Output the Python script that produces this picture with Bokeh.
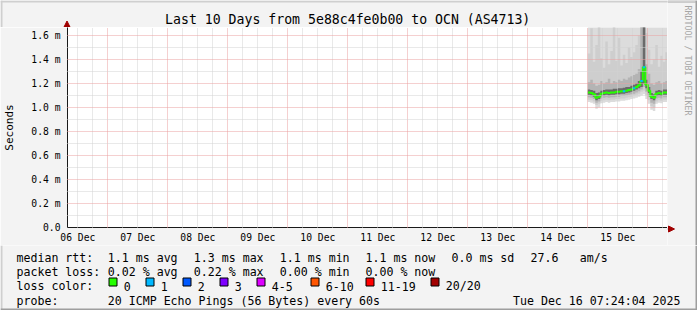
import math
import pandas as pd
from bokeh.plotting import figure
from bokeh.layouts import column, row
from bokeh.models import FixedTicker, CustomJSTickFormatter, ColumnDataSource, Range1d
from bokeh.core.properties import value
from bokeh.embed import file_html
from bokeh.resources import INLINE

# ---------------- data ----------------
title_text = "Last 10 Days from 5e88c4fe0b00 to OCN (AS4713)"
graph_start = "2025-12-06 07:52:48"
graph_end = "2025-12-16 07:52:48"
first_sample = "2025-12-15 00:00:00"   # hourly samples

median_ms = [1.125, 1.12, 1.11, 1.08, 1.09, 1.115, 1.12, 1.125, 1.12, 1.125, 1.125, 1.13,
             1.13, 1.135, 1.135, 1.14, 1.145, 1.15, 1.16, 1.17, 1.185, 1.22, 1.335, 1.19,
             1.14, 1.09, 1.08, 1.115, 1.12, 1.115, 1.125, 1.125]
loss_count = [0, 0, 0, 0, 0, 0, 0, 0, 0, 0, 0, 0, 0, 0, 1, 0, 0, 0, 1, 0, 0, 1, 1, 0,
              0, 0, 0, 0, 0, 0, 0, 0]

outer_lo = [1.045, 1.04, 1.03, 0.99, 1.00, 1.035, 1.04, 1.045, 1.04, 1.045, 1.045, 1.05,
            1.05, 1.055, 1.055, 1.06, 1.065, 1.07, 1.075, 1.08, 1.09, 1.10, 1.11, 1.07,
            1.03, 0.98, 0.97, 1.03, 1.04, 1.035, 1.045, 1.045]
outer_hi = [1.9, 1.9, 1.9, 1.9, 1.9, 1.9, 1.9, 1.9, 1.9, 1.9, 1.9, 1.9, 1.9, 1.9, 1.9, 1.9,
            1.9, 1.9, 1.9, 1.9, 1.9, 1.9, 1.9, 1.9, 1.9, 1.9, 1.9, 1.9, 1.9, 1.9, 1.9, 1.9]
second_lo = [1.065, 1.06, 1.05, 1.02, 1.03, 1.055, 1.06, 1.065, 1.06, 1.065, 1.065, 1.07,
             1.07, 1.075, 1.075, 1.08, 1.085, 1.09, 1.10, 1.105, 1.115, 1.13, 1.14, 1.10,
             1.06, 1.01, 1.00, 1.05, 1.06, 1.055, 1.065, 1.065]
second_hi = [1.45, 1.66, 1.38, 1.52, 1.9, 1.41, 1.33, 1.55, 1.36, 1.47, 1.9, 1.39, 1.58,
             1.35, 1.44, 1.37, 1.50, 1.42, 1.46, 1.52, 1.60, 1.9, 1.9, 1.62, 1.48, 1.36,
             1.40, 1.52, 1.34, 1.43, 1.38, 1.46]
third_lo = [1.085, 1.08, 1.07, 1.04, 1.05, 1.075, 1.08, 1.085, 1.08, 1.085, 1.085, 1.09,
            1.09, 1.095, 1.095, 1.10, 1.105, 1.11, 1.115, 1.125, 1.135, 1.15, 1.17, 1.13,
            1.09, 1.04, 1.03, 1.075, 1.08, 1.075, 1.085, 1.085]
third_hi = [1.21, 1.23, 1.20, 1.18, 1.19, 1.22, 1.20, 1.21, 1.24, 1.20, 1.22, 1.21, 1.23,
            1.22, 1.24, 1.23, 1.25, 1.26, 1.27, 1.28, 1.32, 1.9, 1.9, 1.36, 1.28, 1.20,
            1.19, 1.21, 1.22, 1.20, 1.21, 1.22]
inner_lo = [1.105, 1.10, 1.09, 1.06, 1.07, 1.095, 1.10, 1.105, 1.10, 1.105, 1.105, 1.11,
            1.11, 1.115, 1.115, 1.12, 1.125, 1.13, 1.14, 1.15, 1.16, 1.17, 1.20, 1.16,
            1.12, 1.07, 1.06, 1.095, 1.10, 1.095, 1.105, 1.105]
inner_hi = [1.15, 1.145, 1.14, 1.12, 1.125, 1.14, 1.145, 1.15, 1.15, 1.15, 1.155, 1.155,
            1.16, 1.16, 1.165, 1.17, 1.17, 1.18, 1.19, 1.20, 1.22, 1.30, 1.9, 1.23, 1.17,
            1.12, 1.11, 1.14, 1.145, 1.14, 1.15, 1.15]

y_major = [0.0, 0.2, 0.4, 0.6, 0.8, 1.0, 1.2, 1.4, 1.6]
y_minor = [0.1, 0.3, 0.5, 0.7, 0.9, 1.1, 1.3, 1.5]

loss_labels = ["0", "1", "2", "3", "4-5", "6-10", "11-19", "20/20"]
loss_colors = ["#26ff00", "#00b8ff", "#0059ff", "#7e00ff", "#dd00ff", "#ff5500", "#ff0000", "#a10000"]

stats_rtt = ["median rtt:", "1.1 ms avg", "1.3 ms max", "1.1 ms min", "1.1 ms now",
             "0.0 ms sd", "27.6", "am/s"]
stats_loss = ["packet loss:", "0.02 % avg", "0.22 % max", "0.00 % min", "0.00 % now"]
probe_text = "20 ICMP Echo Pings (56 Bytes) every 60s"
stamp_text = "Tue Dec 16 07:24:04 2025"
side_text = "RRDTOOL / TOBI OETIKER"

smoke_colors = ["#dcdcdc", "#cecece", "#b4b4b4", "#6a6a6a"]

# ---------------- layout constants (pixels) ----------------
W, H = 697, 310
PL, PR, PT, PB = 67, 667, 27, 228
TOPH = 245
FONT = "DejaVu Sans Mono"
BG = "#f3f3f3"
rtt_x = [16, 107.3, 193.3, 279.3, 365, 451, 530, 579.3]
loss_x = [16, 107.3, 193.3, 279.3, 365]
box_x = [108.5, 145.5, 182.5, 219.5, 256.5, 310.5, 365.5, 430.5]
row_y = [257.3, 271.7, 285.8, 300]


def ms(ts):
    return pd.Timestamp(ts).value / 1e6


t0, t1 = ms(graph_start), ms(graph_end)
edges = [ms(t) for t in pd.date_range(first_sample, periods=len(median_ms) + 1, freq="h")]
label_ticks = [ms(t) for t in pd.date_range("2025-12-06 12:00", "2025-12-15 12:00", freq="D")]
grid_major = [ms(t) for t in pd.date_range("2025-12-07 00:00", "2025-12-16 00:00", freq="D")]
grid_minor = [ms(t) for t in pd.date_range("2025-12-06 12:00", "2025-12-16 06:00", freq="6h")
              if t.hour != 0]


def pixfig(w, h, x0, y0):
    f = figure(width=w, height=h, x_range=Range1d(x0, x0 + w), y_range=Range1d(y0 + h, y0),
               x_axis_location=None, y_axis_location=None, toolbar_location=None,
               output_backend="svg", min_border=0, outline_line_color=None,
               background_fill_color=BG, border_fill_color=BG, frame_align=False)
    f.grid.visible = False
    return f


def texts(f, xs, ys, ss, size, align="left", baseline="alphabetic", color="black", angle=0.0):
    f.text(x=xs, y=ys, text=ss, text_font=value(FONT), text_font_size=value(f"{size}px"),
           text_align=align, text_baseline=baseline, text_color=color, angle=angle)


def rects(f, l, r, t, b, fill, line=None):
    f.quad(left=l, right=r, top=t, bottom=b, fill_color=fill, line_color=line, line_width=1)


# ---------------- main chart ----------------
p = figure(width=PR, height=TOPH - PT, x_axis_type="datetime",
           x_range=Range1d(t0, t1), y_range=Range1d(0, 1.666),
           min_border_left=PL, min_border_right=0, min_border_top=0,
           min_border_bottom=TOPH - PB, frame_align=False,
           toolbar_location=None, output_backend="svg",
           background_fill_color="white", border_fill_color=BG, outline_line_color=None)

bands = [(outer_lo, outer_hi), (second_lo, second_hi), (third_lo, third_hi), (inner_lo, inner_hi)]
for (lo, hi), col in zip(bands, smoke_colors):
    src = ColumnDataSource(dict(x=edges, lo=lo + [lo[-1]], hi=hi + [hi[-1]]))
    p.varea_step(x="x", y1="lo", y2="hi", step_mode="after", source=src,
                 fill_color=col, fill_alpha=1)

p.step(x=edges, y=median_ms + [median_ms[-1]], mode="after", line_color=loss_colors[0],
       line_width=2)
lx0, lx1, ly, lc = [], [], [], []
for i, (m, l) in enumerate(zip(median_ms, loss_count)):
    if l > 0:
        lx0.append(edges[i]); lx1.append(edges[i + 1]); ly.append(m)
        lc.append(loss_colors[min(l, 7)])
p.segment(x0=lx0, x1=lx1, y0=ly, y1=ly, line_color=lc, line_width=2)

p.xaxis.ticker = FixedTicker(ticks=label_ticks, minor_ticks=[])
p.xaxis.formatter = CustomJSTickFormatter(code="""
const m = ["Jan","Feb","Mar","Apr","May","Jun","Jul","Aug","Sep","Oct","Nov","Dec"];
const d = new Date(tick);
return String(d.getUTCDate()).padStart(2, "0") + " " + m[d.getUTCMonth()];
""")
p.yaxis.ticker = FixedTicker(ticks=y_major, minor_ticks=[])
p.yaxis.formatter = CustomJSTickFormatter(code="""
return Math.abs(tick) < 1e-9 ? "0.0" : tick.toFixed(1) + " m";
""")
for ax in (p.xaxis, p.yaxis):
    ax.axis_line_color = "#1a1a1a"
    ax.axis_line_width = 1
    ax.major_tick_line_color = None
    ax.minor_tick_line_color = None
    ax.major_tick_out = 0
    ax.major_tick_in = 0
    ax.major_label_text_font = FONT
    ax.major_label_text_font_size = "9.7px"
    ax.major_label_text_color = "black"
p.xaxis.major_label_standoff = 4
p.yaxis.major_label_standoff = 7
p.yaxis.axis_label = "Seconds"
p.yaxis.axis_label_text_font = FONT
p.yaxis.axis_label_text_font_size = "11px"
p.yaxis.axis_label_text_font_style = "normal"
p.yaxis.axis_label_text_color = "black"
p.yaxis.axis_label_standoff = 12

p.xgrid.ticker = FixedTicker(ticks=grid_major, minor_ticks=grid_minor)
p.ygrid.ticker = FixedTicker(ticks=y_major, minor_ticks=y_minor)
for g in (p.xgrid, p.ygrid):
    g.grid_line_color = "#eba0a0"
    g.grid_line_dash = "1 1"
    g.grid_line_width = 1
    g.minor_grid_line_color = "#d2d2d2"
    g.minor_grid_line_dash = "1 1"
    g.minor_grid_line_width = 1
    g.level = "overlay"

# ---------------- header (title, top of y axis) ----------------
hdr = pixfig(PR, PT, 0, 0)
rects(hdr, [0, 0], [PR, 2], [0, 0], [2, PT], "#cfcfcf")
texts(hdr, [347.2], [19.2], [title_text], 13.2, align="center", baseline="middle")
hdr.segment(x0=[66.5], y0=[23], x1=[66.5], y1=[PT], line_color="#1a1a1a", line_width=1)
hdr.patch(x=[66.5, 63.5, 69.5], y=[20.5, 26.5, 26.5], fill_color="#a00000",
          line_color="#a00000", line_width=1)

# ---------------- right strip (side text, x arrow) ----------------
side = pixfig(W - PR, TOPH, PR, 0)
rects(side, [PR, W - 2], [W, W], [0, 0], [2, TOPH], "#9e9e9e")
rects(side, [PR], [W - 2], [0], [2], "#cfcfcf")
texts(side, [687.3], [5], [side_text], 8.3, baseline="middle", color="#a6a6a6",
      angle=-math.pi / 2)
side.segment(x0=[PR], y0=[228.5], x1=[670], y1=[228.5], line_color="#1a1a1a", line_width=1)
side.patch(x=[674, 668, 668], y=[228.5, 225.5, 231.5], fill_color="#a00000",
           line_color="#a00000", line_width=1)

# ---------------- legend ----------------
leg = pixfig(W, H - TOPH, 0, TOPH)
rects(leg, [0, 0, W - 2], [2, W, W], [TOPH, H - 2, TOPH], [H, H, H],
      ["#cfcfcf", "#9e9e9e", "#9e9e9e"])
LEG = 11.6
texts(leg, rtt_x, [row_y[0]] * len(rtt_x), stats_rtt, LEG)
texts(leg, loss_x, [row_y[1]] * len(loss_x), stats_loss, LEG)
texts(leg, [16], [row_y[2]], ["loss color:"], LEG)
rects(leg, box_x, [b + 8 for b in box_x], [277.5] * 8, [285.5] * 8, loss_colors, line="black")
texts(leg, [b + 14.8 for b in box_x], [row_y[2]] * 8, loss_labels, LEG)
texts(leg, [16, 107.3], [row_y[3]] * 2, ["probe:", probe_text], LEG)
texts(leg, [680], [row_y[3]], [stamp_text], LEG, align="right")

layout = column(row(column(hdr, p, spacing=0), side, spacing=0), leg, spacing=0)
open("out.html", "w").write(file_html(layout, INLINE))
